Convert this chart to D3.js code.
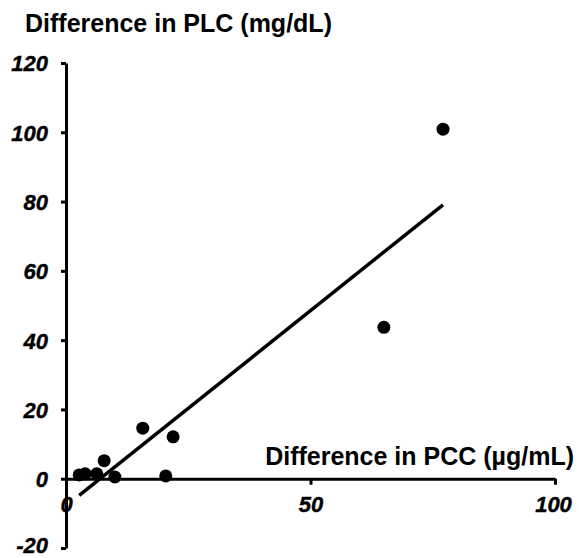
<!DOCTYPE html>
<html>
<head>
<meta charset="utf-8">
<script src="https://cdn.jsdelivr.net/npm/d3@7"></script>
<style>
  body { margin: 0; background: #fff; }
  svg { display: block; }
  text { font-family: "Liberation Sans", Arial, sans-serif; }
</style>
</head>
<body>
<svg id="chart" width="579" height="558"></svg>
<script>
// differences
const pccDiff = [2.7, 3.9, 6.3, 7.8, 10.0, 15.7, 20.4, 21.9, 65.0, 77.1];
const plcDiff = [1.1, 1.4, 1.4, 5.2, 0.5, 14.6, 0.8, 12.1, 43.7, 100.9];
const xTicks = [0, 50, 100];
const yTicks = [-20, 0, 20, 40, 60, 80, 100, 120];
const yTitle = "Difference in PLC (mg/dL)";
const xTitle = "Difference in PCC (µg/mL)";

const width = 579, height = 558;
const svg = d3.select("#chart");

const x = d3.scaleLinear().domain([0, 100]).range([66, 555]);
const y = d3.scaleLinear().domain([-20, 120]).range([548, 63]);

const points = pccDiff.map((d, i) => ({ x: d, y: plcDiff[i] }));

// least squares fit
const mx = d3.mean(pccDiff), my = d3.mean(plcDiff);
const slope = d3.sum(points, p => (p.x - mx) * (p.y - my)) / d3.sum(points, p => (p.x - mx) ** 2);
const intercept = my - slope * mx;
const [xMin, xMax] = d3.extent(pccDiff);

// plain hyphen for negatives, like the original
const fmt = d => String(d);

const yAxis = d3.axisLeft(y)
    .tickValues(yTicks)
    .tickSize(5)
    .tickSizeOuter(0)
    .tickPadding(13)
    .tickFormat(fmt);
const gy = svg.append("g")
    .attr("transform", `translate(${x(0)},0)`)
    .call(yAxis);

// x axis along y = 0
const xAxis = d3.axisBottom(x)
    .tickValues(xTicks)
    .tickSize(6)
    .tickSizeOuter(0)
    .tickPadding(12)
    .tickFormat(fmt);
const gx = svg.append("g")
    .attr("transform", `translate(0,${y(0)})`)
    .call(xAxis);

[gx, gy].forEach(g => {
    g.select(".domain").attr("stroke", "#000").attr("stroke-width", 3);
    g.selectAll(".tick line").attr("stroke", "#000").attr("stroke-width", 3);
    g.selectAll(".tick text")
        .attr("fill", "#000")
        .attr("stroke", "#000")
        .attr("stroke-width", 0.4)
        .style("font-family", "'Liberation Sans', Arial, sans-serif")
        .style("font-size", "22px")
        .style("font-weight", "bold")
        .style("font-style", "italic");
});
gy.selectAll(".tick text").attr("dy", d => d === -20 ? "0.2em" : "0.36em");
gx.selectAll(".tick text").filter(d => d === 100).attr("dx", "-2");

// trend line
svg.append("line")
    .attr("x1", x(xMin))
    .attr("y1", y(slope * xMin + intercept))
    .attr("x2", x(xMax))
    .attr("y2", y(slope * xMax + intercept))
    .attr("stroke", "#000")
    .attr("stroke-width", 3.5);

svg.selectAll(".dot")
    .data(points)
    .join("circle")
    .attr("class", "dot")
    .attr("cx", d => x(d.x))
    .attr("cy", d => y(d.y))
    .attr("r", 6.5)
    .attr("fill", "#000");

svg.append("text")
    .attr("x", 25)
    .attr("y", 32)
    .style("font-size", "25px")
    .style("font-weight", "bold")
    .text(yTitle);

svg.append("text")
    .attr("x", 574)
    .attr("y", 465)
    .attr("text-anchor", "end")
    .style("font-size", "25px")
    .style("font-weight", "bold")
    .text(xTitle);
</script>
</body>
</html>
